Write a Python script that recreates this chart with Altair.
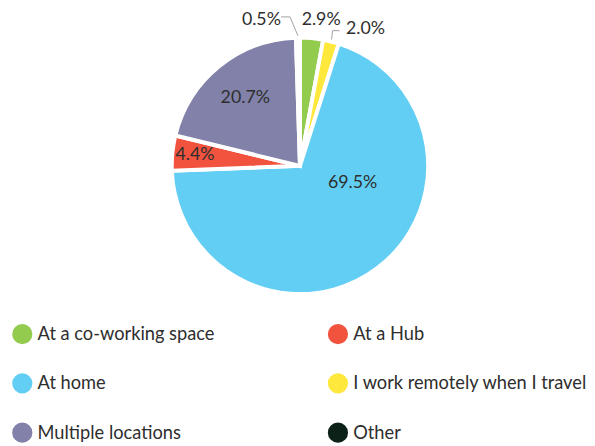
import altair as alt
import pandas as pd

# slices in drawing order (clockwise from 12 o'clock)
categories = ["At a co-working space", "I work remotely when I travel", "At home",
              "At a Hub", "Multiple locations", "Other"]
values = [2.9, 2.0, 69.5, 4.4, 20.7, 0.5]

# legend order (filled column by column) and colours
legend_order = ["At a co-working space", "At home", "Multiple locations",
                "At a Hub", "I work remotely when I travel", "Other"]
legend_colors = ["#93cb4f", "#63cef3", "#8181a9", "#f2533f", "#fde83b", "#0c2218"]

df = pd.DataFrame({
    "category": categories,
    "value": values,
    "order": list(range(len(categories))),
    "label": [f"{v:.1f}%" for v in values],
})

CX, CY, R = 296, 157, 130
FONT = "Lato"
TXT = "#2e2e2e"

base = alt.Chart(df)

pie = base.mark_arc(outerRadius=R, stroke="white", strokeWidth=4).encode(
    theta=alt.Theta("value:Q", stack=True),
    order=alt.Order("order:Q"),
    color=alt.Color(
        "category:N",
        scale=alt.Scale(domain=legend_order, range=legend_colors),
        legend=alt.Legend(
            title=None, orient="none", legendX=4, legendY=317, columns=2,
            symbolType="circle", symbolSize=420, symbolStrokeWidth=0,
            labelFont=FONT, labelFontSize=18.5, labelColor=TXT,
            labelLimit=400, labelOffset=5, rowPadding=29, columnPadding=114,
        ),
    ),
    x=alt.value(CX),
    y=alt.value(CY),
)

# angles of slice midpoints computed from the data
angled = base.transform_window(
    cum="sum(value)", sort=[alt.SortField("order")], frame=[None, 0]
).transform_joinaggregate(total="sum(value)").transform_calculate(
    mid="2*PI*(datum.cum - datum.value/2)/datum.total"
)


def label_layer(cat, r, align="center", dx=0, dy=0):
    return angled.transform_filter(alt.datum.category == cat).transform_calculate(
        lx=f"{CX} + {r}*sin(datum.mid)",
        ly=f"{CY} - {r}*cos(datum.mid)",
    ).mark_text(font=FONT, fontSize=18, color=TXT, align=align,
                baseline="middle", dx=dx, dy=dy).encode(
        x=alt.X("lx:Q", scale=None, axis=None),
        y=alt.Y("ly:Q", scale=None, axis=None),
        text="label:N",
    )


def leader(cat, ex, ey, hlen):
    d = angled.transform_filter(alt.datum.category == cat).transform_calculate(
        x0=f"{CX} + {R + 2}*sin(datum.mid)",
        y0=f"{CY} - {R + 2}*cos(datum.mid)",
    ).transform_calculate(
        x1=f"datum.x0 + ({ex})",
        y1=f"datum.y0 + ({ey})",
    ).transform_calculate(x2=f"datum.x1 + ({hlen})")
    seg1 = d.mark_rule(color="#a0a0a0", strokeWidth=1).encode(
        x=alt.X("x0:Q", scale=None, axis=None), y=alt.Y("y0:Q", scale=None, axis=None),
        x2="x1:Q", y2="y1:Q")
    seg2 = d.mark_rule(color="#a0a0a0", strokeWidth=1).encode(
        x=alt.X("x1:Q", scale=None, axis=None), y=alt.Y("y1:Q", scale=None, axis=None),
        x2="x2:Q", y2="y1:Q")
    return seg1 + seg2


layers = [
    pie,
    leader("Other", -8, -19, -9),
    leader("I work remotely when I travel", 1, -9, 7),
    label_layer("At home", 55, dx=20, dy=-26),
    label_layer("Multiple locations", 88),
    label_layer("At a Hub", 107),
    label_layer("Other", 148, align="right", dx=-17),
    label_layer("At a co-working space", 148, dx=8),
    label_layer("I work remotely when I travel", 143, align="left", dx=12),
]

chart = alt.layer(*layers).properties(
    width=587, height=438,
    autosize=alt.AutoSizeParams(type="none"),
    padding=0,
).configure_view(stroke=None)

chart.save("out.html", embed_options={"renderer": "svg", "actions": False})
